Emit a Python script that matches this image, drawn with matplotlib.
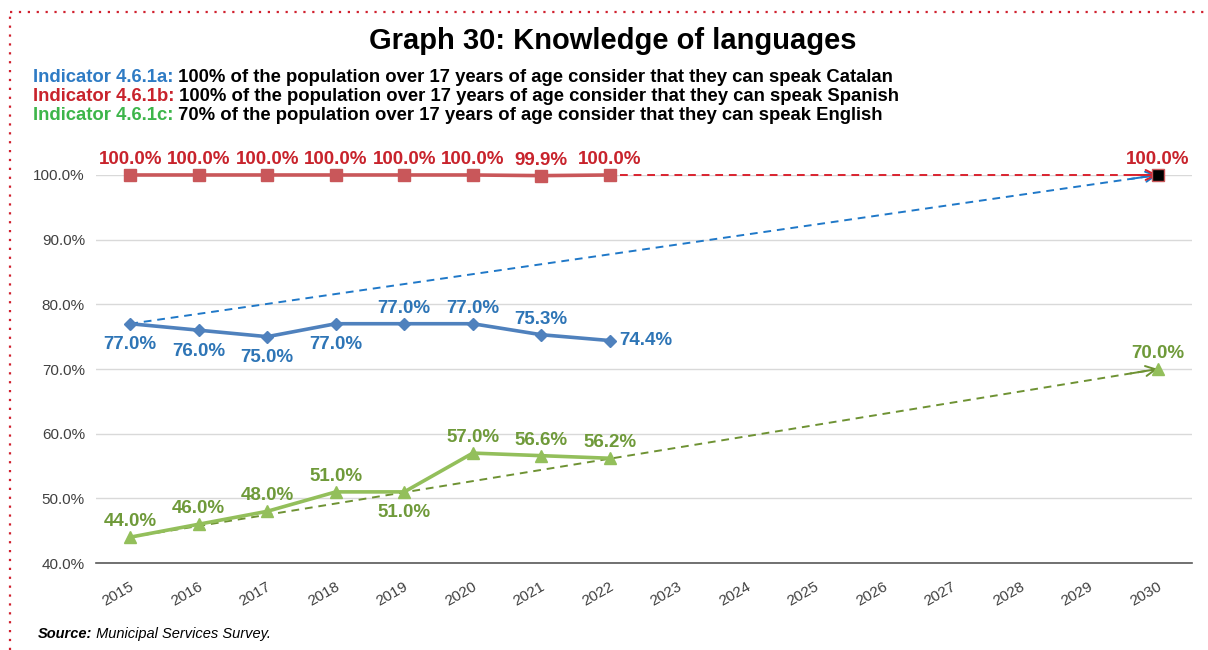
import matplotlib
matplotlib.use('Agg')
import matplotlib.pyplot as plt
import matplotlib.transforms as mtransforms
from matplotlib.lines import Line2D

plt.rcParams['font.family'] = ['Liberation Sans', 'DejaVu Sans']

# --- Data ---
years = [str(y) for y in range(2015, 2031)]
obs_years = years[:8]
catalan = [77.0, 76.0, 75.0, 77.0, 77.0, 77.0, 75.3, 74.4]
spanish = [100.0, 100.0, 100.0, 100.0, 100.0, 100.0, 99.9, 100.0]
english = [44.0, 46.0, 48.0, 51.0, 51.0, 57.0, 56.6, 56.2]
target_catalan = 100.0
target_spanish = 100.0
target_english = 70.0

# label placement per point: 'a' above, 'b' below, 'r' right
catalan_pos = ['b', 'b', 'b', 'b', 'a', 'a', 'a', 'r']
spanish_pos = ['a'] * 8
english_pos = ['a', 'a', 'a', 'a', 'b', 'a', 'a', 'a']

# --- Colours ---
BLUE_LINE = '#4F81BD'
BLUE_TXT = '#2E75B6'
BLUE_DASH = '#1F78C8'
RED_LINE = '#C9575A'
RED_TXT = '#C8232C'
RED_DASH = '#D9232F'
GREEN_LINE = '#93BF5B'
GREEN_TXT = '#6F9A3A'
GREEN_DASH = '#6E9233'

fig = plt.figure(figsize=(12.08, 6.5), dpi=100)
ax = fig.add_axes([0.0795, 0.1338, 0.9073, 0.597])

x = list(range(len(years)))
xo = x[:8]

ax.set_xlim(-0.5, len(years) - 0.5)
ax.set_ylim(40, 100)
ax.set_yticks([40, 50, 60, 70, 80, 90, 100])
ax.set_yticklabels([f'{v:.1f}%' for v in [40, 50, 60, 70, 80, 90, 100]])
ax.set_xticks(x)
ax.set_xticklabels(years, rotation=30, ha='center')
ax.tick_params(axis='both', length=0, labelsize=11, labelcolor='#404040')
ax.tick_params(axis='x', pad=12)
ax.tick_params(axis='y', pad=8)
shift = mtransforms.ScaledTranslation(-12 / 100, 0, fig.dpi_scale_trans)
for lab in ax.get_xticklabels():
    lab.set_transform(lab.get_transform() + shift)
ax.grid(axis='y', color='#D9D9D9', linewidth=1)
ax.set_axisbelow(True)
for s in ['top', 'right', 'left']:
    ax.spines[s].set_visible(False)
ax.spines['bottom'].set_color('#595959')
ax.spines['bottom'].set_linewidth(1.2)


def target_arrow(y0, y1, color):
    ax.plot([x[0], x[-1]], [y0, y1], linestyle='--', color=color,
            linewidth=1.4, dashes=(4, 3), zorder=3, clip_on=False)
    dx = 0.4
    ax.annotate('', xy=(x[-1], y1),
                xytext=(x[-1] - dx, y1 - (y1 - y0) * dx / (x[-1] - x[0])),
                arrowprops=dict(arrowstyle='->', color=color, lw=1.4,
                                mutation_scale=18, shrinkA=0, shrinkB=0),
                zorder=3)


target_arrow(catalan[0], target_catalan, BLUE_DASH)
target_arrow(english[0], target_english, GREEN_DASH)
target_arrow(spanish[0], target_spanish, RED_DASH)

ax.plot(xo, catalan, color=BLUE_LINE, lw=2.6, marker='D', markersize=6,
        zorder=4, clip_on=False)
ax.plot(xo, english, color=GREEN_LINE, lw=2.6, marker='^', markersize=8,
        zorder=4, clip_on=False)
ax.plot(xo, spanish, color=RED_LINE, lw=2.6, marker='s', markersize=8,
        zorder=4, clip_on=False)

# 2030 targets
ax.plot([x[-1]], [target_english], marker='^', color=GREEN_LINE,
        markersize=9, zorder=5, clip_on=False)
ax.plot([x[-1]], [target_spanish], marker='s', color='black',
        markeredgecolor=RED_LINE, markersize=9, zorder=5, clip_on=False)


def labels(vals, pos, color):
    for xi, v, p in zip(xo, vals, pos):
        if p == 'a':
            ax.annotate(f'{v:.1f}%', (xi, v), xytext=(0, 5),
                        textcoords='offset points', ha='center', va='bottom',
                        color=color, fontsize=13.5, fontweight='bold')
        elif p == 'b':
            ax.annotate(f'{v:.1f}%', (xi, v), xytext=(0, -9),
                        textcoords='offset points', ha='center', va='top',
                        color=color, fontsize=13.5, fontweight='bold')
        else:
            ax.annotate(f'{v:.1f}%', (xi, v), xytext=(7, 0),
                        textcoords='offset points', ha='left', va='center',
                        color=color, fontsize=13.5, fontweight='bold')


labels(catalan, catalan_pos, BLUE_TXT)
labels(spanish, spanish_pos, RED_TXT)
labels(english, english_pos, GREEN_TXT)
ax.annotate(f'{target_spanish:.1f}%', (x[-1], target_spanish), xytext=(0, 5),
            textcoords='offset points', ha='center', va='bottom',
            color=RED_TXT, fontsize=13.5, fontweight='bold')
ax.annotate(f'{target_english:.1f}%', (x[-1], target_english), xytext=(0, 5),
            textcoords='offset points', ha='center', va='bottom',
            color=GREEN_TXT, fontsize=13.5, fontweight='bold')

# --- Frame (dotted red border top and left) ---
fig.add_artist(Line2D([10 / 1208, 1], [1 - 12 / 650, 1 - 12 / 650],
                      transform=fig.transFigure, color='#D0202E',
                      linestyle=(0, (1, 3)), linewidth=1.6))
fig.add_artist(Line2D([10 / 1208, 10 / 1208], [0, 1 - 12 / 650],
                      transform=fig.transFigure, color='#D0202E',
                      linestyle=(0, (1, 3)), linewidth=1.6))

# --- Titles ---
fig.text(613 / 1208, 1 - 41 / 650, 'Graph 30: Knowledge of languages',
         ha='center', va='center', fontsize=21, fontweight='bold')

subs = [
    ('Indicator 4.6.1a:', ' 100% of the population over 17 years of age consider that they can speak Catalan', '#2E7BC4'),
    ('Indicator 4.6.1b:', ' 100% of the population over 17 years of age consider that they can speak Spanish', '#C8232C'),
    ('Indicator 4.6.1c:', ' 70% of the population over 17 years of age consider that they can speak English', '#3DB54A'),
]
renderer = fig.canvas.get_renderer()
for i, (head, rest, col) in enumerate(subs):
    ypix = 77 + i * 19.5
    t = fig.text(33 / 1208, 1 - ypix / 650, head, ha='left', va='center',
                 fontsize=13.3, fontweight='bold', color=col)
    bb = t.get_window_extent(renderer=renderer)
    fig.text(bb.x1 / fig.bbox.width, 1 - ypix / 650, rest, ha='left',
             va='center', fontsize=13.3, fontweight='bold', color='black')

src = fig.text(38 / 1208, 1 - 634 / 650, 'Source:', ha='left', va='center',
               fontsize=10.5, fontweight='bold', style='italic')
bb = src.get_window_extent(renderer=renderer)
fig.text(bb.x1 / fig.bbox.width, 1 - 634 / 650, ' Municipal Services Survey.',
         ha='left', va='center', fontsize=10.5, style='italic')

fig.savefig('out.png', dpi=100)
